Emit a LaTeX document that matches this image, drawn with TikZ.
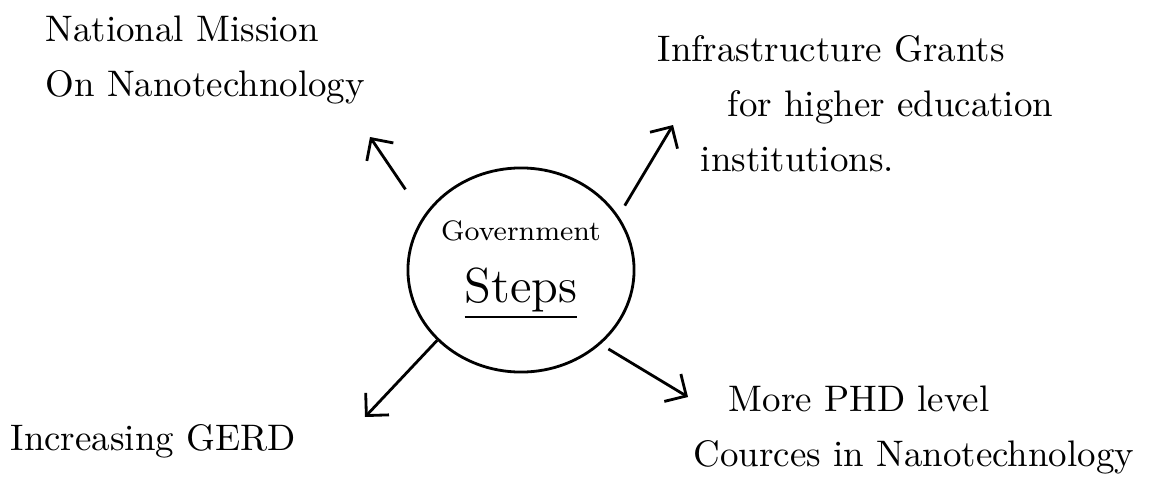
\documentclass[tikz,border=0pt]{standalone}
\usepackage{tikz}
\usetikzlibrary{arrows.meta,shapes.geometric}
\begin{document}
\begin{tikzpicture}[x=0.01cm,y=-0.01cm,
hub/.style={ellipse,draw,line width=0.8pt,minimum width=22.6mm,
minimum height=20.4mm,inner sep=0pt,align=center},
note/.style={inner sep=0pt,align=left,font=\fontsize{10.5}{15.6}\selectfont},
arr/.style={-{Straight Barb[length=1.6mm,width=3.2mm]},line width=0.8pt}
]
\useasboundingbox (0,0) rectangle (1176,503);
\node[hub] (gov) at (521,270)
  {{\fontsize{8}{10}\selectfont Government}\\[2mm]
   {\fontsize{14}{16}\selectfont\underline{Steps}}};
\node[note,anchor=north west] (nmn) at (45,15)
  {National Mission\\On Nanotechnology};
\node[note,anchor=north west] (infra) at (657,35)
  {Infrastructure Grants\\\hspace*{7mm}for higher education\\
   \hspace*{4.3mm}institutions.};
\node[note,anchor=base west] (gerd) at (10,450) {Increasing GERD};
\node[note,anchor=north west] (phd) at (693,385)
  {\hspace*{3.5mm}More PHD level\\Cources in Nanotechnology};
% free ends of the arrows, next to the labels
\coordinate (nmn-tip)   at (370,137);
\coordinate (infra-tip) at (673,125);
\coordinate (gerd-tip)  at (365,417);
\coordinate (phd-tip)   at (688,397);
\draw[arr,shorten <=3.2mm] (gov.151) -- (nmn-tip);
\draw[arr,shorten <=1.2mm] (gov.29)  -- (infra-tip);
\draw[arr]                 (gov.220) -- (gerd-tip);
\draw[arr,shorten <=0.9mm] (gov.317) -- (phd-tip);
\end{tikzpicture}
\end{document}
